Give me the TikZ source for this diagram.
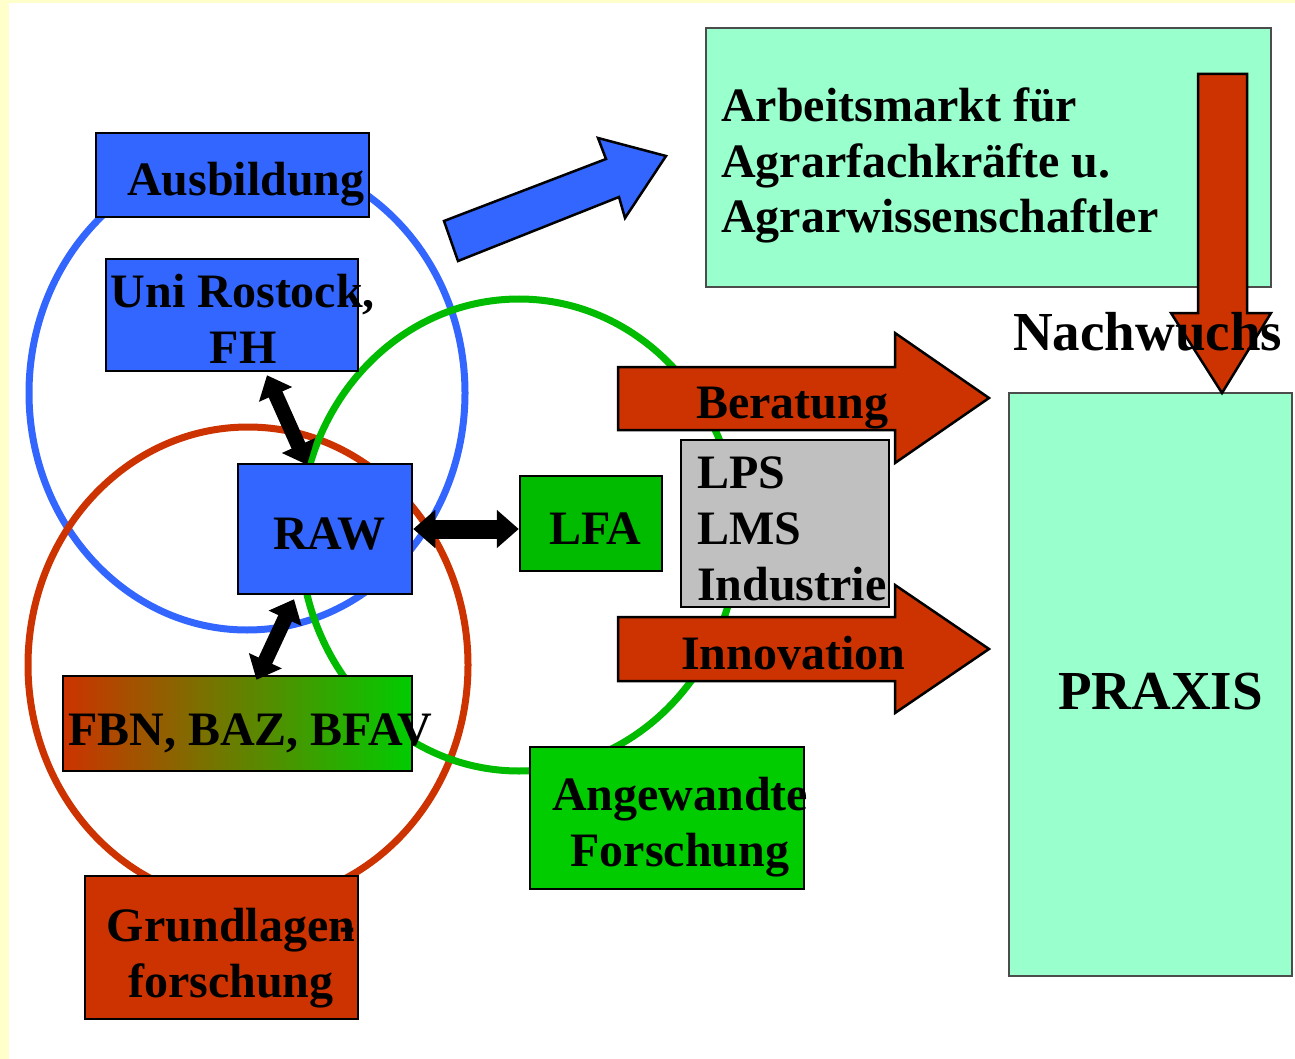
\documentclass[tikz,border=0pt]{standalone}
\usepackage{fontspec}
\setmainfont{Liberation Serif}
\usetikzlibrary{arrows.meta}

\definecolor{paleyellow}{RGB}{255,255,204}
\definecolor{boxblue}{RGB}{51,102,255}
\definecolor{boxred}{RGB}{204,51,0}
\definecolor{boxgreen}{RGB}{0,204,0}
\definecolor{boxolive}{RGB}{160,160,0}
\definecolor{ringgreen}{RGB}{0,187,0}
\definecolor{mint}{RGB}{153,255,204}
\definecolor{boxgray}{RGB}{192,192,192}

\tikzset{
  box/.style={draw=black, line width=2.5pt, inner sep=0pt},
  pale/.style={draw=black!70, line width=1.2pt, fill=mint, inner sep=0pt},
  ring/.style={line width=7pt},
  txt/.style={inner sep=0pt, align=left, font={\bfseries\fontsize{48}{56}\selectfont}},
  bigtxt/.style={inner sep=0pt, font={\bfseries\fontsize{55}{60}\selectfont}},
  flow/.style={draw=black, line width=2.5pt, line join=miter},
  link/.style={line width=15pt, {Triangle[width=35pt,length=21pt]}-{Triangle[width=35pt,length=21pt]}},
}

\begin{document}
\begin{tikzpicture}[x=1pt, y=-1pt]
    \fill [paleyellow] (0,0) rectangle (1295,1059);
    \fill [white] (8.5,3.5) rectangle (1295,1059);
    \useasboundingbox (0,0) rectangle (1295,1059);

    % the three fields
    \draw [ring, boxblue] (247,393) ellipse [x radius=218, y radius=237];
    \draw [ring, boxred] (248,665) ellipse [x radius=220, y radius=238];
    \draw [ring, ringgreen] (519,535) ellipse [x radius=219, y radius=236];

    \node [box, fill=boxblue, minimum width=273pt, minimum height=84pt] (ausb) at (232.5,175) {};
    \node [box, fill=boxblue, minimum width=252pt, minimum height=112pt] (uni) at (232,315) {};
    \node [box, fill=boxblue, minimum width=174pt, minimum height=130pt] (raw) at (325,529) {};
    \node [box, fill=ringgreen, minimum width=142pt, minimum height=95pt] (lfa) at (591,523.5) {};
    \node [box, left color=boxred, middle color=boxolive, right color=boxgreen, minimum width=349pt, minimum height=95pt] (fbn) at (237.5,723.5) {};
    \node [box, fill=boxred, minimum width=273pt, minimum height=143pt] (grund) at (221.5,947.5) {};
    \node [box, fill=boxgreen, minimum width=274pt, minimum height=142pt] (angew) at (667,818) {};
    \node [box, fill=boxgray, minimum width=208pt, minimum height=167pt] (lps) at (785,523.5) {};
    \node [pale, minimum width=565pt, minimum height=259pt] (markt) at (988.5,157.5) {};
    \node [pale, minimum width=283pt, minimum height=583pt] (praxis) at (1150.5,684.5) {};

    \draw [link] ([xshift=35pt,yshift=-3pt]uni.south) -- ([xshift=-18pt,yshift=-2pt]raw.north);
    \draw [link] ([xshift=-31pt,yshift=-4pt]raw.south) -- ([xshift=19pt,yshift=-5pt]fbn.north);
    \draw [link, line width=19pt, {Triangle[width=37pt,length=22pt]}-{Triangle[width=37pt,length=22pt]}] (raw.east) -- (raw.east -| lfa.west);

    % block arrows
    \draw [flow, fill=boxblue] (444,221) -- (606,159) -- (598,138) -- (666,156) -- (625,218) -- (619,197) -- (458,261) -- cycle;
    \draw [flow, fill=boxred] (618,367) -- (895,367) -- (895,333) -- (989,398) -- (895,463) -- (895,430) -- (618,430) -- cycle;
    \draw [flow, fill=boxred] (618,617) -- (895,617) -- (895,585) -- (989,649) -- (895,713) -- (895,681) -- (618,681) -- cycle;
    \draw [flow, fill=boxred] (1198,74) -- (1247,74) -- (1247,313) -- (1271,313) -- (1222,393) -- (1171,313) -- (1198,313) -- cycle;

    \node [txt, anchor=base west] (ausbt) at (127,196) {Ausbildung};
    \node [txt, anchor=base, align=center] (unit) at (243,363) {Uni Rostock,\\FH};
    \node [txt, anchor=base west] (rawt) at (273,549) {RAW};
    \node [txt, anchor=base west] (lfat) at (549,544) {LFA};
    \node [txt, anchor=base west] (fbnt) at (68,745) {FBN, BAZ, BFAV};
    \node [txt, anchor=base, align=center] (grundt) at (231,997) {Grundlagen\llap{-}\\forschung};
    \node [txt, anchor=base, align=center] (angewt) at (680,866) {Angewandte\\Forschung};
    \node [txt, anchor=base west] (lpst) at (697,600) {LPS\\LMS\\Industrie};
    \node [txt, anchor=base west] (beratt) at (696,418) {Beratung};
    \node [txt, anchor=base west] (innot) at (681,669) {Innovation};
    \node [txt, anchor=base west, font={\bfseries\fontsize{48}{55.5}\selectfont}] (marktt) at (721,233) {Arbeitsmarkt für\\Agrarfachkräfte u.\\Agrarwissenschaftler};
    \node [bigtxt, anchor=base west] (nacht) at (1013,350) {Nachwuchs};
    \node [bigtxt, anchor=base west] (praxist) at (1058,709) {PRAXIS};
\end{tikzpicture}
\end{document}
